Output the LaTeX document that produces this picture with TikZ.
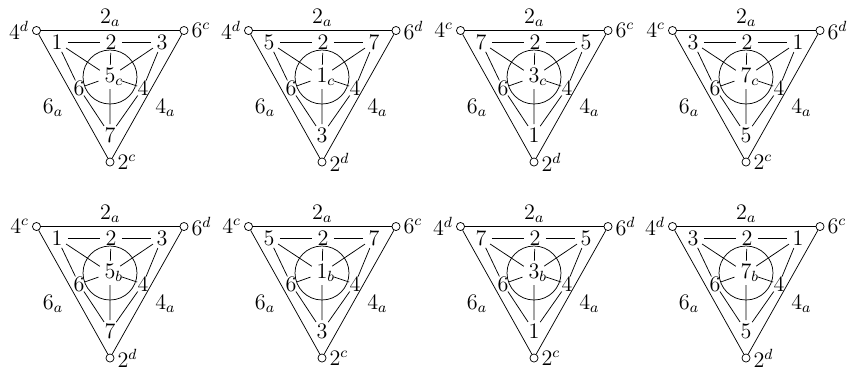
\documentclass[tikz,border=0pt]{standalone}
\begin{document}
\begin{tikzpicture}[x=0.01905cm, y=-0.01905cm, every node/.style={font=\large},
    every label/.style={inner sep=1.5pt},
    vert/.style={circle, draw, inner sep=0pt, minimum size=4.4pt},
    pnt/.style={circle, inner sep=0.6pt},
    side/.style={inner sep=0pt}]
    \useasboundingbox (0,0) rectangle (853,371);
    \foreach \i/\ox/\oy/\la/\lb/\lc/\p/\q/\r/\m/\s in {
        a/0/0/d/c/c/1/3/7/5/c, b/212/0/d/d/d/5/7/3/1/c,
        c/424/0/c/c/d/7/5/1/3/c, d/636/0/c/d/c/3/1/5/7/c,
        e/0/196/c/d/d/1/3/7/5/b, f/212/196/c/c/c/5/7/3/1/b,
        g/424/196/d/d/c/7/5/1/3/b, h/636/196/d/c/d/3/1/5/7/b}
    {
    \begin{scope}[shift={(\ox,\oy)}]
        \node[vert, label=left:$4^\la$] (A\i) at (36.5,30.5) {};
        \node[vert, label=right:$6^\lb$] (B\i) at (184,30.5) {};
        \node[vert, label=right:$2^\lc$] (C\i) at (110,162) {};
        \draw (A\i) -- node[above, inner sep=2pt] {$2_a$} (B\i);
        \draw (A\i) -- node[below left, xshift=-2pt, yshift=2pt] {$6_a$} (C\i);
        \draw (B\i) -- node[below right, xshift=1pt, yshift=2pt] {$4_a$} (C\i);
        \node[pnt] (p\i) at (57,42) {$\p$};
        \node[pnt] (t\i) at (111,42) {$2$};
        \node[pnt] (q\i) at (162,42) {$\q$};
        \node[side] (l\i) at (79,88) {$6$};
        \node[side] (k\i) at (143,88) {$4$};
        \node[pnt] (r\i) at (110,135) {$\r$};
        \node[pnt] (m\i) at (110,77) {$\m\rlap{$_\s$}$};
        \draw (m\i.center) circle[radius=0.514cm];
        \draw (p\i) -- (t\i) -- (q\i);
        \draw (p\i) -- (l\i) -- (r\i);
        \draw (q\i) -- (k\i) -- (r\i);
        \draw (p\i) -- (m\i) (q\i) -- (m\i) (t\i) -- (m\i);
        \draw (l\i) -- (m\i) (k\i) -- (m\i) (r\i) -- (m\i);
    \end{scope}
    }
\end{tikzpicture}
\end{document}
